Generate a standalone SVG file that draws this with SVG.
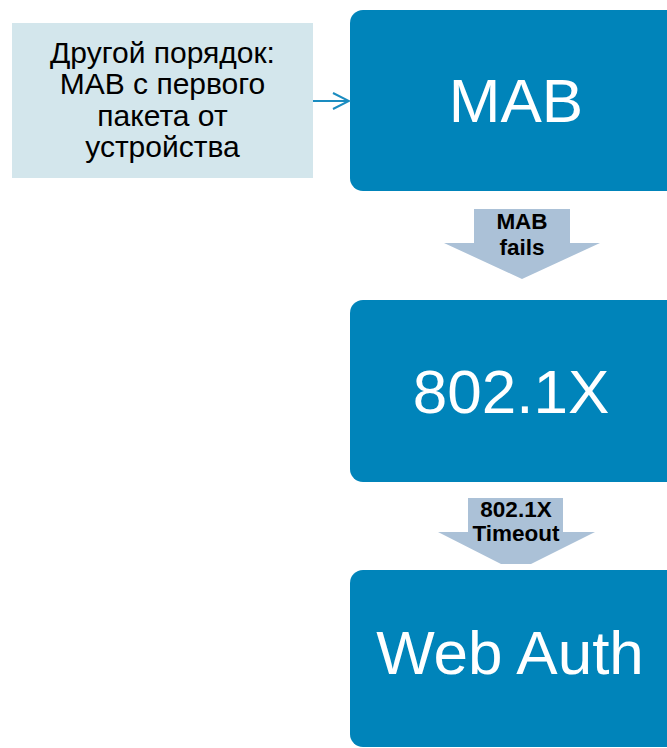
<svg xmlns="http://www.w3.org/2000/svg" width="667" height="748" viewBox="0 0 667 748">
  <defs>
    <style>
      .step { fill: #0084ba; }
      .step-label { fill: #ffffff; font-family: "Liberation Sans", Arial, sans-serif; font-size: 62px; text-anchor: middle; }
      .note { fill: #d3e6ec; }
      .note-label { fill: #000000; font-family: "Liberation Sans", Arial, sans-serif; font-size: 30px; text-anchor: middle; }
      .flow { fill: #abc1d7; }
      .flow-label { fill: #000000; font-family: "Liberation Sans", Arial, sans-serif; font-size: 22.5px; font-weight: bold; text-anchor: middle; }
      .link { stroke: #1a8cc0; stroke-width: 2; fill: none; }
    </style>
    <marker id="open-arrow" viewBox="0 0 20 20" refX="18" refY="10" markerWidth="20" markerHeight="20" markerUnits="userSpaceOnUse" orient="auto">
      <path d="M2,2 L18,10 L2,18" fill="none" stroke="#1a8cc0" stroke-width="2"/>
    </marker>
  </defs>

  <rect width="667" height="748" fill="#ffffff"/>

  <!-- Note box on the left -->
  <g id="note-order">
    <rect class="note" x="12" y="23" width="301" height="155"/>
    <text class="note-label" x="162.5" y="63">Другой порядок:</text>
    <text class="note-label" x="162.5" y="94">MAB с первого</text>
    <text class="note-label" x="162.5" y="126">пакета от</text>
    <text class="note-label" x="162.5" y="157">устройства</text>
  </g>

  <!-- Authentication steps -->
  <g id="step-mab">
    <rect class="step" x="350" y="10" width="340" height="181" rx="13" ry="13"/>
    <text class="step-label" x="516" y="122">MAB</text>
  </g>

  <g id="step-dot1x">
    <rect class="step" x="350" y="300" width="340" height="182" rx="13" ry="13"/>
    <text class="step-label" x="511" y="413">802.1X</text>
  </g>

  <g id="step-webauth">
    <rect class="step" x="350" y="570" width="340" height="177" rx="13" ry="13"/>
    <text class="step-label" x="510" y="674">Web Auth</text>
  </g>

  <!-- Connectors -->
  <g id="connectors">
    <line class="link" x1="313" y1="101" x2="349" y2="101" marker-end="url(#open-arrow)"/>

    <g id="flow-mab-fails">
      <polygon class="flow" points="474,209 570,209 570,243 600,243 522,279 444,243 474,243"/>
      <text class="flow-label" x="522" y="229">MAB</text>
      <text class="flow-label" x="522" y="255">fails</text>
    </g>

    <g id="flow-dot1x-timeout">
      <polygon class="flow" points="468,498 563,498 563,532 595,532 531,564 501,564 438,532 468,532"/>
      <text class="flow-label" x="516" y="517">802.1X</text>
      <text class="flow-label" x="516" y="541">Timeout</text>
    </g>
  </g>
</svg>
